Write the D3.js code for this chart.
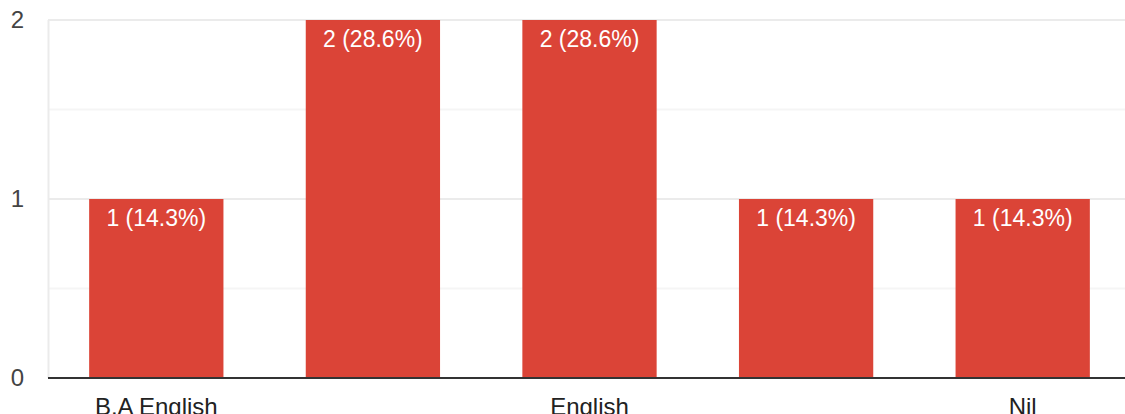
<html>
<head>
    <script src="https://d3js.org/d3.v7.min.js"></script>
    <style>
        body { margin: 0; background: #fff; }
        text { font-family: Arial, "Liberation Sans", sans-serif; }
    </style>
</head>
<body>
    <div id="chart">
        <svg width="1125" height="414"></svg>
    </div>
    <script>
        // data
        var categories = ["B.A English", "", "English", "", "Nil"]  // 2nd and 4th labels are hidden in the original
        var counts = [1, 2, 2, 1, 1]
        var yTicks = [0, 1, 2]
        var minorTicks = [0.5, 1.5]

        var total = d3.sum(counts)
        var svg = d3.select("#chart svg")
        var font = "Arial, 'Liberation Sans', sans-serif"

        var xScale = d3.scaleBand()
            .domain(d3.range(categories.length))
            .range([48, 1131])
            .paddingInner(0.38)
            .paddingOuter(0.19)

        var yScale = d3.scaleLinear()
            .domain([0, 2])
            .range([378, 20])

        // minor gridlines
        svg.selectAll(".minor")
            .data(minorTicks)
            .enter()
            .append("line")
            .attr("x1", 48).attr("x2", 1125)
            .attr("y1", function(d) { return yScale(d) })
            .attr("y2", function(d) { return yScale(d) })
            .style("stroke", "#f5f5f5")
            .style("stroke-width", 2)

        // major gridlines
        svg.selectAll(".major")
            .data(yTicks.filter(function(d) { return d > 0 }))
            .enter()
            .append("line")
            .attr("x1", 48).attr("x2", 1125)
            .attr("y1", function(d) { return yScale(d) })
            .attr("y2", function(d) { return yScale(d) })
            .style("stroke", "#ebebeb")
            .style("stroke-width", 2)

        // left edge
        svg.append("line")
            .attr("x1", 48.5).attr("x2", 48.5)
            .attr("y1", yScale(2)).attr("y2", yScale(0))
            .style("stroke", "#ebebeb")
            .style("stroke-width", 2)

        // y axis labels
        var yAxis = d3.axisLeft(yScale)
            .tickValues(yTicks)
            .tickFormat(d3.format("d"))
            .tickSize(0)
            .tickPadding(0)
        var yg = svg.append("g")
            .attr("transform", "translate(24,0)")
            .call(yAxis)
        yg.select(".domain").remove()
        yg.selectAll("text")
            .style("font-family", font)
            .style("font-size", "24px")
            .style("fill", "#444")

        // bars
        svg.selectAll(".bar")
            .data(counts)
            .enter()
            .append("rect")
            .attr("x", function(d, i) { return xScale(i) })
            .attr("y", function(d) { return yScale(d) })
            .attr("width", xScale.bandwidth())
            .attr("height", function(d) { return yScale(0) - yScale(d) })
            .style("fill", "#db4437")

        // value labels inside bars
        svg.selectAll(".val")
            .data(counts)
            .enter()
            .append("text")
            .attr("x", function(d, i) { return xScale(i) + xScale.bandwidth() / 2 })
            .attr("y", function(d) { return yScale(d) + 27 })
            .attr("text-anchor", "middle")
            .style("font-family", font)
            .style("font-size", "23px")
            .style("fill", "#fff")
            .text(function(d) { return d + " (" + (d / total * 100).toFixed(1) + "%)" })

        // baseline
        svg.append("line")
            .attr("x1", 48).attr("x2", 1125)
            .attr("y1", yScale(0)).attr("y2", yScale(0))
            .style("stroke", "#333")
            .style("stroke-width", 2)

        // category labels
        var xAxis = d3.axisBottom(xScale)
            .tickFormat(function(i) { return categories[i] })
            .tickSize(0)
            .tickPadding(0)
        var xg = svg.append("g")
            .attr("transform", "translate(0,415)")
            .call(xAxis)
        xg.select(".domain").remove()
        xg.selectAll("text")
            .attr("dy", "0")
            .style("font-family", font)
            .style("font-size", "24px")
            .style("fill", "#222")
    </script>
</body>
</html>
